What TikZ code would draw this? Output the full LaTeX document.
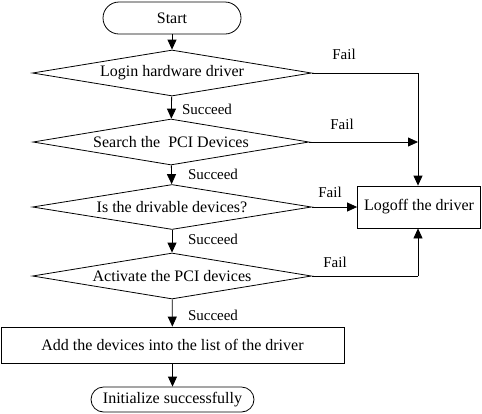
\documentclass[tikz,border=0pt]{standalone}
\usepackage{fontspec}
\setmainfont{Liberation Serif}
\usetikzlibrary{shapes.geometric,arrows.meta}
\begin{document}
\begin{tikzpicture}[x=1pt,y=-1pt,
  every node/.style={font=\fontsize{16}{18}\selectfont},
  base/.style={draw,line width=0.8pt},
  term/.style={base,rounded corners=#1,minimum height=2*#1,inner sep=0pt},
  dec/.style={base,diamond,aspect=6,inner sep=0pt,minimum width=279pt,minimum height=46pt},
  proc/.style={base,rectangle,inner sep=0pt},
  lbl/.style={font=\fontsize{15}{17}\selectfont,inner sep=0pt},
  arr/.style={line width=0.8pt,-{Triangle[length=10pt,width=9pt]}},
  ln/.style={line width=0.8pt}]
\useasboundingbox (0,0) rectangle (482,413);
\node[term=16pt,minimum width=138pt] (start) at (172,18) {Start};
\node[dec] (login) at (172,73) {Login hardware driver};
\node[dec,minimum width=276pt] (search) at (171,142) {Search the\ \ PCI Devices};
\node[dec,minimum height=45pt] (drv) at (172,207) {Is the drivable devices?};
\node[dec] (act) at (172,276) {Activate the PCI devices};
\node[proc,minimum width=343pt,minimum height=36pt] (add) at (172.5,345) {Add the devices into the list of the driver};
\node[term=12.5pt,minimum width=163pt] (init) at (172.5,399.5) {Initialize successfully};
\node[proc,minimum width=123pt,minimum height=42pt] (logoff) at (419,207) {Logoff the driver};
\coordinate (c1) at (418,73);
\coordinate (c2) at (418,142);
\coordinate (c4) at (418,276);
\draw[arr] (start) -- (login);
\draw[arr] (login) -- (search);
\draw[arr] (search) -- (drv);
\draw[arr] (drv) -- (act);
\draw[arr] (act) -- (add);
\draw[arr] (add) -- (init);
\draw[ln] (login.east) -- (c1);
\draw[arr] (c1) -- (logoff.north -| c1);
\draw[arr] (search.east) -- (c2);
\draw[arr] (drv.east) -- (logoff.west);
\draw[ln] (act.east) -- (c4);
\draw[arr] (c4) -- (logoff.south -| c4);
\node[lbl] (f1) at (344,54) {Fail};
\node[lbl] (f2) at (342,124) {Fail};
\node[lbl] (f3) at (330,192) {Fail};
\node[lbl] (f4) at (335,262) {Fail};
\node[lbl] (s1) at (207,109) {Succeed};
\node[lbl] (s2) at (213,174) {Succeed};
\node[lbl] (s3) at (213,239) {Succeed};
\node[lbl] (s4) at (213,315) {Succeed};
\end{tikzpicture}
\end{document}
